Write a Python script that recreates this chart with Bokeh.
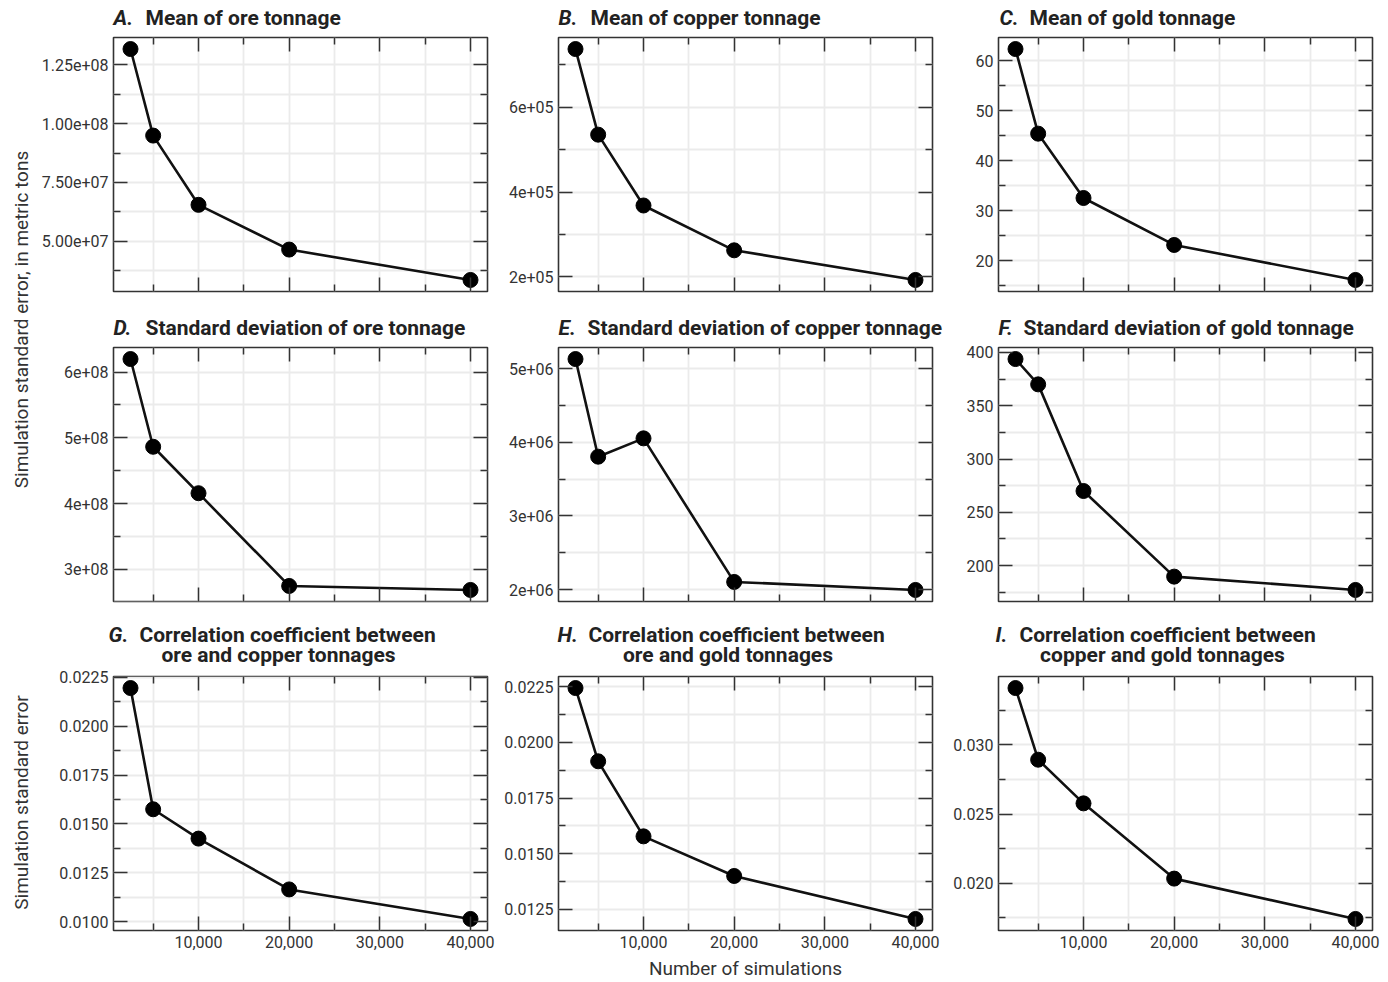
import math
from bokeh.plotting import figure
from bokeh.models import Range1d, FixedTicker, LinearAxis
from bokeh.layouts import row, column
from bokeh.embed import file_html
from bokeh.resources import INLINE
from bokeh.core.properties import value

# ---------------- data ----------------
n_sims = [2500, 5000, 10000, 20000, 40000]

mean_ore = [1.3165e8, 9.49e7, 6.55e7, 4.65e7, 3.36e7]
mean_copper = [7.375e5, 5.356e5, 3.686e5, 2.629e5, 1.93e5]
mean_gold = [62.33, 45.4, 32.53, 23.13, 16.13]
sd_ore = [6.197e8, 4.863e8, 4.157e8, 2.747e8, 2.686e8]
sd_copper = [5.131e6, 3.805e6, 4.054e6, 2.104e6, 1.995e6]
sd_gold = [393.75, 370.0, 270.0, 189.7, 177.2]
corr_ore_copper = [0.02195, 0.01575, 0.01425, 0.01165, 0.01014]
corr_ore_gold = [0.02244, 0.01915, 0.01578, 0.0140, 0.01207]
corr_copper_gold = [0.03409, 0.02892, 0.02577, 0.02034, 0.01743]

x_ticks = [10000, 20000, 30000, 40000]
x_tick_labels = ["10,000", "20,000", "30,000", "40,000"]
x_minor = [5000, 15000, 25000, 35000]

yt_mean_ore = [5e7, 7.5e7, 1e8, 1.25e8]
yl_mean_ore = ["5.00e+07", "7.50e+07", "1.00e+08", "1.25e+08"]
ym_mean_ore = [3.75e7, 6.25e7, 8.75e7, 1.125e8]

yt_mean_copper = [2e5, 4e5, 6e5]
yl_mean_copper = ["2e+05", "4e+05", "6e+05"]
ym_mean_copper = [3e5, 5e5, 7e5]

yt_mean_gold = [20, 30, 40, 50, 60]
yl_mean_gold = ["20", "30", "40", "50", "60"]
ym_mean_gold = [15, 25, 35, 45, 55]

yt_sd_ore = [3e8, 4e8, 5e8, 6e8]
yl_sd_ore = ["3e+08", "4e+08", "5e+08", "6e+08"]
ym_sd_ore = [2.5e8, 3.5e8, 4.5e8, 5.5e8]

yt_sd_copper = [2e6, 3e6, 4e6, 5e6]
yl_sd_copper = ["2e+06", "3e+06", "4e+06", "5e+06"]
ym_sd_copper = [2.5e6, 3.5e6, 4.5e6]

yt_sd_gold = [200, 250, 300, 350, 400]
yl_sd_gold = ["200", "250", "300", "350", "400"]
ym_sd_gold = [175, 225, 275, 325, 375]

yt_corr_oc = [0.01, 0.0125, 0.015, 0.0175, 0.02, 0.0225]
yl_corr_oc = ["0.0100", "0.0125", "0.0150", "0.0175", "0.0200", "0.0225"]
ym_corr_oc = [0.01125, 0.01375, 0.01625, 0.01875, 0.02125]

yt_corr_og = [0.0125, 0.015, 0.0175, 0.02, 0.0225]
yl_corr_og = ["0.0125", "0.0150", "0.0175", "0.0200", "0.0225"]
ym_corr_og = [0.01375, 0.01625, 0.01875, 0.02125]

yt_corr_cg = [0.02, 0.025, 0.03]
yl_corr_cg = ["0.020", "0.025", "0.030"]
ym_corr_cg = [0.0175, 0.0225, 0.0275, 0.0325]

letters = ["A.", "B.", "C.", "D.", "E.", "F.", "G.", "H.", "I."]
title_line1 = [
    "Mean of ore tonnage",
    "Mean of copper tonnage",
    "Mean of gold tonnage",
    "Standard deviation of ore tonnage",
    "Standard deviation of copper tonnage",
    "Standard deviation of gold tonnage",
    "Correlation coefficient between",
    "Correlation coefficient between",
    "Correlation coefficient between",
]
title_line2 = ["ore and copper tonnages", "ore and gold tonnages",
               "copper and gold tonnages"]

y_title_top = "Simulation standard error, in metric tons"
y_title_bottom = "Simulation standard error"
x_title = "Number of simulations"

series = [mean_ore, mean_copper, mean_gold, sd_ore, sd_copper, sd_gold,
          corr_ore_copper, corr_ore_gold, corr_copper_gold]
yticks = [yt_mean_ore, yt_mean_copper, yt_mean_gold, yt_sd_ore, yt_sd_copper,
          yt_sd_gold, yt_corr_oc, yt_corr_og, yt_corr_cg]
ylabels = [yl_mean_ore, yl_mean_copper, yl_mean_gold, yl_sd_ore, yl_sd_copper,
           yl_sd_gold, yl_corr_oc, yl_corr_og, yl_corr_cg]
yminors = [ym_mean_ore, ym_mean_copper, ym_mean_gold, ym_sd_ore, ym_sd_copper,
           ym_sd_gold, ym_corr_oc, ym_corr_og, ym_corr_cg]

# ---------------- layout / style (page pixels) ----------------
FONT = "Roboto"
FW, FH = 374, 254
YSTRIP_W = 38
col_left = [75, 61, 56]
col_right = [10, 10, 8]
GRID_W = sum(col_left) + sum(col_right) + 3 * FW
panel_top = [6, 6, 10]
panel_bottom = [6, 6, 26]
title_strip_h = [31, 44, 59]
bottom_strip_h = 24
# title placement (page x for letter and text start; vertical centre within strip)
letter_x = [113, 558, 999, 113, 558, 998, 108, 557, 995]
text_x = [145, 590, 1029, 145, 587, 1023, 139, 588, 1019]
line2_cx = [278, 727.5, 1162]
mid1 = [17, 30, 27]
mid2 = 47
GRID = "#ebebeb"
DARK = "#333333"
TITLE_C = "#222222"


def style_axis(ax, ticker, show_labels, overrides=None):
    ax.ticker = ticker
    ax.major_tick_in = 14
    ax.major_tick_out = 0
    ax.minor_tick_in = 7
    ax.minor_tick_out = 0
    ax.major_tick_line_color = DARK
    ax.minor_tick_line_color = DARK
    ax.major_tick_line_width = 1.5
    ax.minor_tick_line_width = 1.5
    ax.axis_line_color = None
    if show_labels:
        ax.major_label_text_font = FONT
        ax.major_label_text_font_size = "16px"
        ax.major_label_text_color = DARK
        ax.major_label_standoff = 5
        if overrides:
            ax.major_label_overrides = overrides
    else:
        ax.major_label_text_color = None
        ax.major_label_text_font_size = "1px"
        ax.major_label_standoff = 0


def strip_fig(w, h):
    f = figure(width=w, height=h, x_range=Range1d(0, w), y_range=Range1d(h, 0),
               output_backend="svg", toolbar_location=None,
               x_axis_location=None, y_axis_location=None, min_border=0)
    f.grid.visible = False
    f.outline_line_color = None
    f.background_fill_color = None
    f.border_fill_color = None
    return f


panels = []
for i in range(9):
    r, c = divmod(i, 3)
    yv = series[i]
    ypad = 0.05 * (max(yv) - min(yv))
    xpad = 0.05 * (max(n_sims) - min(n_sims))
    p = figure(frame_width=FW, frame_height=FH,
               x_range=Range1d(min(n_sims) - xpad, max(n_sims) + xpad),
               y_range=Range1d(min(yv) - ypad, max(yv) + ypad),
               output_backend="svg", toolbar_location=None,
               min_border_left=col_left[c], min_border_right=col_right[c],
               min_border_top=panel_top[r], min_border_bottom=panel_bottom[r])
    p.outline_line_color = DARK
    p.outline_line_width = 1.6

    xt = FixedTicker(ticks=x_ticks, minor_ticks=x_minor)
    yt = FixedTicker(ticks=yticks[i], minor_ticks=yminors[i])
    x_over = {t: l for t, l in zip(x_ticks, x_tick_labels)}
    y_over = {t: l for t, l in zip(yticks[i], ylabels[i])}

    style_axis(p.xaxis[0], xt, r == 2, x_over)
    style_axis(p.yaxis[0], yt, True, y_over)
    top_ax = LinearAxis()
    right_ax = LinearAxis()
    style_axis(top_ax, FixedTicker(ticks=x_ticks, minor_ticks=x_minor), False)
    style_axis(right_ax, FixedTicker(ticks=yticks[i], minor_ticks=yminors[i]), False)
    p.add_layout(top_ax, "above")
    p.add_layout(right_ax, "right")

    for g in (p.xgrid[0], p.ygrid[0]):
        g.grid_line_color = GRID
        g.grid_line_width = 1.8
        g.minor_grid_line_color = GRID
        g.minor_grid_line_width = 1.8

    p.line(n_sims, yv, line_width=2.6, line_color="#111111")
    p.scatter(n_sims, yv, size=15, fill_color="#000000", line_color="#000000")
    panels.append(p)

# title strips above each row
title_strips = []
for r in range(3):
    ts = strip_fig(GRID_W, title_strip_h[r])
    idx = [3 * r + k for k in range(3)]
    ts.text(x=[letter_x[i] - YSTRIP_W for i in idx], y=[mid1[r]] * 3,
            text=[letters[i] for i in idx], text_font=value(FONT),
            text_font_size="21px", text_font_style="bold italic",
            text_color=TITLE_C, text_align="left", text_baseline="middle")
    ts.text(x=[text_x[i] - YSTRIP_W for i in idx], y=[mid1[r]] * 3,
            text=[title_line1[i] for i in idx], text_font=value(FONT),
            text_font_size="21px", text_font_style="bold",
            text_color=TITLE_C, text_align="left", text_baseline="middle")
    if r == 2:
        ts.text(x=[cx - YSTRIP_W for cx in line2_cx], y=[mid2] * 3,
                text=title_line2, text_font=value(FONT),
                text_font_size="21px", text_font_style="bold",
                text_color=TITLE_C, text_align="center", text_baseline="middle")
    title_strips.append(ts)

# bottom strip with x-axis title (centred under the middle panel)
bs = strip_fig(GRID_W, bottom_strip_h)
bs.text(x=[558 + FW / 2 - YSTRIP_W], y=[12], text=[x_title], text_font=value(FONT),
        text_font_size="19px", text_color=DARK, text_align="center",
        text_baseline="middle")

# left strip with the shared y-axis titles
TOTAL_H = (sum(title_strip_h) + sum(panel_top) + 3 * FH + sum(panel_bottom)
           + bottom_strip_h)
ys = strip_fig(YSTRIP_W, TOTAL_H)
ys.text(x=[21, 21], y=[319, 802], text=[y_title_top, y_title_bottom],
        angle=math.pi / 2, text_align="center", text_baseline="middle",
        text_font=value(FONT), text_font_size="19px", text_color=DARK)

grid = column(title_strips[0], row(*panels[0:3]),
              title_strips[1], row(*panels[3:6]),
              title_strips[2], row(*panels[6:9]), bs)
layout = row(ys, grid)

open("out.html", "w").write(file_html(layout, INLINE))
